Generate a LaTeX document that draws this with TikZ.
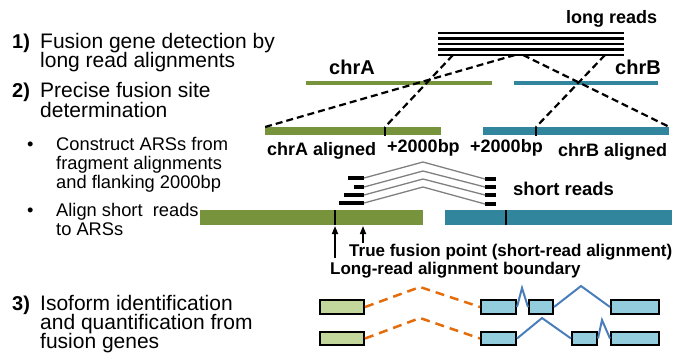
\documentclass[tikz,border=0pt]{standalone}
\usepackage{fontspec}
\setmainfont{Liberation Sans}
\usetikzlibrary{arrows.meta}
\definecolor{barG}{HTML}{77933C}
\definecolor{barB}{HTML}{31859C}
\definecolor{boxG}{HTML}{C3D69B}
\definecolor{boxB}{HTML}{93CDDD}
\definecolor{orn}{HTML}{E46C0A}
\definecolor{bln}{HTML}{4A7EBB}
\tikzset{
  head/.style={anchor=base west, inner sep=0pt, font=\fontsize{21}{21}\selectfont},
  num/.style={anchor=base west, inner sep=0pt, font=\fontsize{20}{20}\selectfont\bfseries},
  btxt/.style={anchor=base west, inner sep=0pt, font=\fontsize{18.3}{18.3}\selectfont},
  lbl/.style={anchor=base west, inner sep=0pt, font=\fontsize{18}{18}\selectfont\bfseries},
  chrlbl/.style={anchor=base west, inner sep=0pt, font=\fontsize{20}{20}\selectfont\bfseries},
  slbl/.style={anchor=base west, inner sep=0pt, font=\fontsize{17}{17}\selectfont\bfseries},
  gbar/.style={fill=barG, inner sep=0pt, anchor=north west},
  bbar/.style={fill=barB, inner sep=0pt, anchor=north west},
  dashline/.style={black, line width=2.2pt, dash pattern=on 7pt off 4pt},
  readline/.style={black, line width=2.4pt},
  sread/.style={black, line width=3.5pt},
  graylink/.style={gray, line width=1.3pt},
  tick/.style={black, line width=2pt},
  exonG/.style={draw=black, fill=boxG, line width=2pt, inner sep=0pt, anchor=north west},
  exonB/.style={draw=black, fill=boxB, line width=2pt, inner sep=0pt, anchor=north west},
  fuselink/.style={orn, line width=2.5pt, dash pattern=on 9pt off 6pt},
  splice/.style={bln, line width=2pt},
  uparrow/.style={black, line width=1.6pt, -{Triangle[length=8pt,width=6pt]}}
}
\begin{document}
\begin{tikzpicture}[x=1pt,y=-1pt]
\useasboundingbox (0,0) rectangle (684,360);

% ---- left column text
\node[num]  (n1)  at (12,48) {1)};
\node[head] (h1a) at (40,48) {Fusion gene detection by};
\node[head] (h1b) at (40,67) {long read alignments};
\node[num]  (n2)  at (12,97) {2)};
\node[head] (h2a) at (40,97) {Precise fusion site};
\node[head] (h2b) at (40,117) {determination};
\node[btxt] (b1)  at (27,150) {•};
\node[btxt] (s1a) at (56,150) {Construct ARSs from};
\node[btxt] (s1b) at (56,169) {fragment alignments};
\node[btxt] (s1c) at (56,188) {and flanking 2000bp};
\node[btxt] (b2)  at (27,216) {•};
\node[btxt] (s2a) at (56,216) {Align short\ \ reads};
\node[btxt] (s2b) at (56,235) {to ARSs};
\node[num]  (n3)  at (12,310) {3)};
\node[head] (h3a) at (40,310) {Isoform identification};
\node[head] (h3b) at (40,329) {and quantification from};
\node[head] (h3c) at (40,348) {fusion genes};

% ---- long reads
\node[lbl] (lrl) at (566,23) {long reads};
\foreach \yy in {33,38.5,44,49.5,55} \draw[readline] (438,\yy) -- (624,\yy);
\coordinate (lr1) at (453,55);
\coordinate (lr2) at (515,55);
\coordinate (lr3) at (523,55);
\coordinate (lr4) at (605,55);

% ---- chromosomes
\node[chrlbl] (chrAl) at (329,74) {chrA};
\node[chrlbl] (chrBl) at (615,74) {chrB};
\node[gbar, minimum width=186pt, minimum height=4pt] (chrA) at (306,81) {};
\node[bbar, minimum width=144pt, minimum height=4pt] (chrB) at (514,81) {};

% ---- aligned fragments with flanks
\node[gbar, minimum width=176pt, minimum height=8pt] (alA) at (265,127) {};
\node[bbar, minimum width=186pt, minimum height=8pt] (alB) at (483,127) {};
\coordinate (tkA) at (385,127);
\coordinate (tkB) at (536,127);
\draw[tick] (tkA) -- ++(0,9);
\draw[tick] (tkB) -- ++(0,9);
\node[lbl] (alAl) at (267,155) {chrA aligned};
\node[lbl] (fA)   at (387,152) {+2000bp};
\node[lbl] (fB)   at (470,152) {+2000bp};
\node[lbl] (alBl) at (558,156) {chrB aligned};

\draw[dashline] (lr1) -- (tkA);
\draw[dashline] (lr2) -- (alA.north west);
\draw[dashline] (lr3) -- (alB.north east);
\draw[dashline] (lr4) -- (tkB);

% ---- short reads
\coordinate (sl1) at (364,178); \coordinate (sl2) at (364,187);
\coordinate (sl3) at (364,195); \coordinate (sl4) at (364,203);
\coordinate (sr1) at (485,179); \coordinate (sr2) at (485,187);
\coordinate (sr3) at (485,195); \coordinate (sr4) at (485,204);
\draw[sread] (348,178) -- (sl1);
\draw[sread] (354,187) -- (sl2);
\draw[sread] (344,195) -- (sl3);
\draw[sread] (339,203) -- (sl4);
\draw[sread] (sr1) -- ++(11,0);
\draw[sread] (sr2) -- ++(11,0);
\draw[sread] (sr3) -- ++(11,0);
\draw[sread] (sr4) -- ++(11,0);
\draw[graylink] (sl1) -- (423,162) -- (sr1);
\draw[graylink] (sl2) -- (423,171) -- (sr2);
\draw[graylink] (sl3) -- (423,179) -- (sr3);
\draw[graylink] (sl4) -- (423,187) -- (sr4);
\node[lbl, font=\fontsize{18.5}{18.5}\selectfont\bfseries] (srl) at (513,195) {short reads};

% ---- ARSs
\node[gbar, minimum width=223pt, minimum height=15pt] (arsA) at (200,210) {};
\node[bbar, minimum width=227pt, minimum height=15pt] (arsB) at (445,210) {};
\draw[tick] (335,210) -- (335,225);
\draw[tick] (506,210) -- (506,225);
\coordinate (a1s) at (335,258); \coordinate (a1e) at (335,226);
\coordinate (a2s) at (363,243); \coordinate (a2e) at (363,226);
\draw[uparrow] (a1s) -- (a1e);
\draw[uparrow] (a2s) -- (a2e);
\node[slbl] (tfp) at (349,256) {True fusion point (short-read alignment)};
\node[slbl] (lrb) at (330,274) {Long-read alignment boundary};

% ---- isoforms
\node[exonG, minimum width=44pt, minimum height=14pt] (g1) at (319,299) {};
\node[exonB, minimum width=35pt, minimum height=14pt] (e11) at (480,299) {};
\node[exonB, minimum width=24pt, minimum height=14pt] (e12) at (528,299) {};
\node[exonB, minimum width=48pt, minimum height=14pt] (e13) at (610,299) {};
\draw[fuselink] (g1.east) -- (420,287) -- (e11.west);
\draw[splice] (e11.east) -- (522,288) -- (e12.west);
\draw[splice] (e12.east) -- (581,286) -- (e13.west);

\node[exonG, minimum width=44pt, minimum height=13pt] (g2) at (319,331) {};
\node[exonB, minimum width=35pt, minimum height=13pt] (e21) at (480,331) {};
\node[exonB, minimum width=25pt, minimum height=13pt] (e22) at (571,331) {};
\node[exonB, minimum width=48pt, minimum height=13pt] (e23) at (610,331) {};
\draw[fuselink] (g2.east) -- (420,318) -- (e21.west);
\draw[splice] (e21.east) -- (542,318) -- (e22.west);
\draw[splice] (e22.east) -- (602,320) -- (e23.west);
\end{tikzpicture}
\end{document}
